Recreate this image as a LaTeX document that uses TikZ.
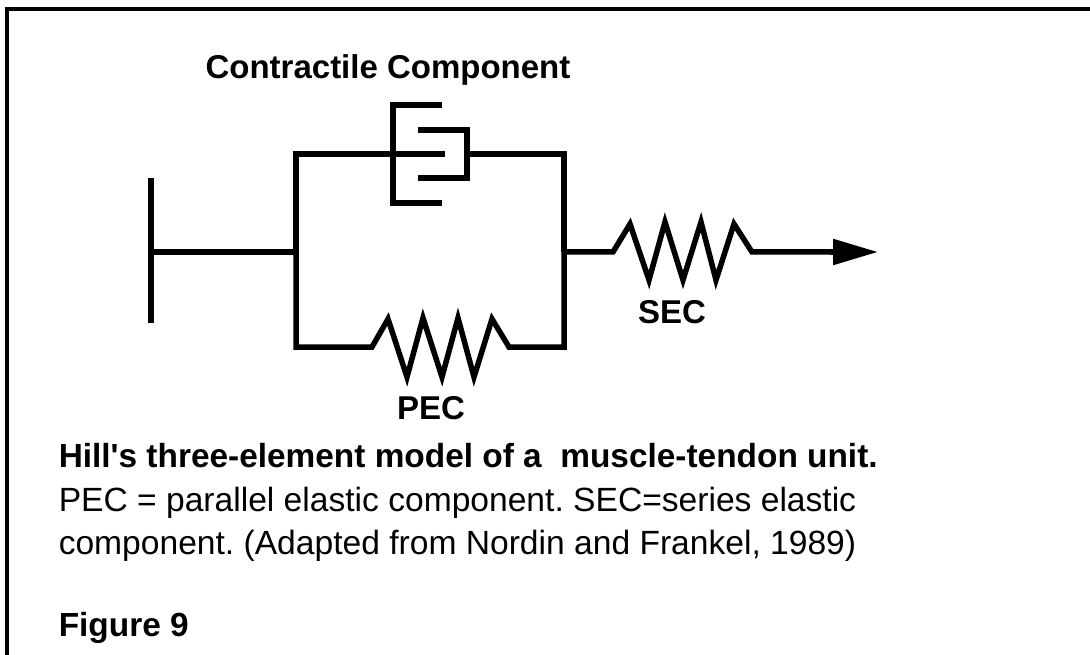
\documentclass[tikz,border=0pt]{standalone}
\usepackage{fontspec}
\setmainfont{Liberation Sans}
\frenchspacing
\usetikzlibrary{arrows.meta, positioning}
\tikzset{
  every picture/.style={line width=5.5pt, x=1pt, y=-1pt},
  wire/.style={draw=black, line join=miter, line cap=butt},
  pull/.style={-{Triangle[length=45pt, width=25pt]}, draw=black},
  label/.style={font=\bfseries\fontsize{33}{38}\selectfont, inner sep=0pt},
  caption/.style={font=\fontsize{33.6}{40}\selectfont, anchor=base west, inner sep=0pt},
  captionhead/.style={caption, font=\bfseries\fontsize{33.4}{40}\selectfont},
}
\begin{document}
\begin{tikzpicture}
  \useasboundingbox (0,0) rectangle (1090,655);
  \fill[white] (0,0) rectangle (1090,655);
  % page frame
  \draw[wire, line width=3.5pt] (7,655) -- (7,9) -- (1090,9);
  % fixed wall and junctions
  \coordinate (wallT) at (151,178);
  \coordinate (wallB) at (151,323);
  \coordinate (wallM) at (151,252);
  \coordinate (splitL) at (296,252);
  \coordinate (splitR) at (564,252);
  \coordinate (rodL) at (445,154);
  \coordinate (cupR) at (467,154);
  \coordinate (pull) at (878,252);
  \draw[wire] (wallT) -- (wallB);
  \draw[wire] (wallM) -- (splitL);
  % contractile branch
  \draw[wire] (splitL) |- (rodL);
  \draw[wire] (442,105) -- (393,105) -- (393,203) -- (442,203);
  \draw[wire] (418,130) -- (cupR |- 0,130) -- (cupR |- 0,178) -- (418,178);
  \draw[wire] (cupR) -| (splitR);
  % parallel spring
  \draw[wire] (splitL) |- (372,347) -- (388,319) -- (407,377) -- (423,318) -- (442,377)
    -- (458,318) -- (474,377) -- (492,319) -- (509,347) -| (splitR);
  % series spring
  \draw[wire] (splitR) -- (613,252) -- (630,224) -- (649,280) -- (665,222) -- (683,280)
    -- (701,222) -- (716,280) -- (734,224) -- (752,252) -- (835,252);
  \draw[pull] (830,252) -- (pull);
  % labels
  \node[label] (cc) at (388,70) {Contractile Component};
  \node[label] (sec) at (672,312) {SEC};
  \node[label] (pec) at (431,408) {PEC};
  \node[captionhead] (cap1) at (56,467) {Hill\textquotesingle s three-element model of a\ \ muscle-tendon unit.};
  \node[caption] (cap2) at (56,511) {PEC = parallel elastic component. SEC=series elastic};
  \node[caption] (cap3) at (56,554) {component. (Adapted from Nordin and Frankel, 1989)};
  \node[captionhead] (fig) at (56,636) {Figure 9};
\end{tikzpicture}
\end{document}
